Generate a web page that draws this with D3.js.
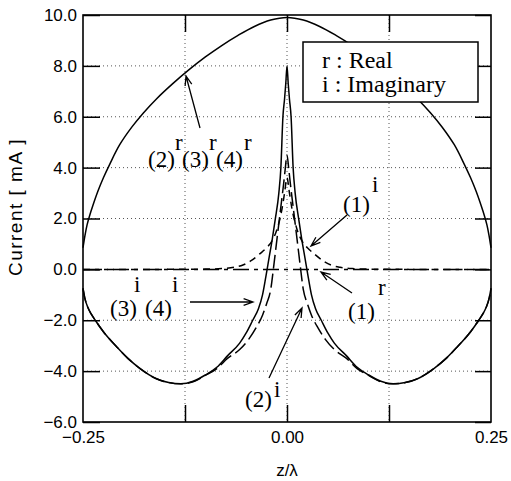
<!DOCTYPE html>
<html>
<head>
<meta charset="utf-8">
<script src="https://cdn.jsdelivr.net/npm/d3@7"></script>
<style>
  html, body { margin: 0; padding: 0; background: #fff; }
  svg { display: block; }
</style>
</head>
<body>
<svg id="chart" width="511" height="481"></svg>
<script>
// Current distribution along the antenna, z/λ from -0.25 to 0.25 (mA)

// (2)^r (3)^r (4)^r — real part, identical for the three cases
const zReal = [-0.25, -0.2475, -0.245, -0.242, -0.238, -0.232, -0.225, -0.217, -0.205, -0.19, -0.176, -0.16, -0.14, -0.12, -0.1, -0.08, -0.06, -0.04, -0.02, 0,
  0.02, 0.04, 0.06, 0.08, 0.1, 0.12, 0.14, 0.16, 0.176, 0.19, 0.205, 0.217, 0.225, 0.232, 0.238, 0.242, 0.245, 0.2475, 0.25];
const realR234 = [0.85, 1.35, 1.75, 2.1, 2.5, 3.05, 3.6, 4.15, 4.9, 5.6, 6.15, 6.7, 7.3, 7.85, 8.35, 8.8, 9.2, 9.55, 9.8, 9.9,
  9.8, 9.55, 9.2, 8.8, 8.35, 7.85, 7.3, 6.7, 6.15, 5.6, 4.9, 4.15, 3.6, 3.05, 2.5, 2.1, 1.75, 1.35, 0.85];

// (3)^i (4)^i — imaginary part, sharp peak at the feed
const zImag34 = [-0.25, -0.248, -0.244, -0.24, -0.235, -0.225, -0.208, -0.195, -0.18, -0.16, -0.145, -0.13, -0.115, -0.1, -0.086, -0.073, -0.058, -0.05, -0.042, -0.035, -0.03, -0.026, -0.022, -0.018, -0.0145, -0.01, -0.0075, -0.005, -0.003, -0.0015, 0,
  0.0015, 0.003, 0.005, 0.0075, 0.01, 0.0145, 0.018, 0.022, 0.026, 0.03, 0.035, 0.042, 0.05, 0.058, 0.073, 0.086, 0.1, 0.115, 0.13, 0.145, 0.16, 0.18, 0.195, 0.208, 0.225, 0.235, 0.24, 0.244, 0.248, 0.25];
const imag34 = [-0.75, -1.1, -1.5, -1.75, -2.0, -2.45, -3.07, -3.5, -3.9, -4.3, -4.45, -4.5, -4.4, -4.15, -3.85, -3.4, -2.9, -2.5, -2.0, -1.55, -1.0, -0.3, 0.45, 1.2, 1.95, 3.0, 4.0, 6.0, 6.7, 7.3, 8.0,
  7.3, 6.7, 6.0, 4.0, 3.0, 1.95, 1.2, 0.45, -0.3, -1.0, -1.55, -2.0, -2.5, -2.9, -3.4, -3.85, -4.15, -4.4, -4.5, -4.45, -4.3, -3.9, -3.5, -3.07, -2.45, -2.0, -1.75, -1.5, -1.1, -0.75];

// (2)^i — imaginary part
const zImag2 = [-0.25, -0.248, -0.244, -0.24, -0.235, -0.225, -0.208, -0.195, -0.18, -0.16, -0.145, -0.13, -0.115, -0.1, -0.086, -0.073, -0.058, -0.047, -0.038, -0.03, -0.025, -0.02, -0.016, -0.013, -0.01, -0.007, -0.004, -0.002, 0,
  0.002, 0.004, 0.007, 0.01, 0.013, 0.016, 0.02, 0.025, 0.03, 0.038, 0.047, 0.058, 0.073, 0.086, 0.1, 0.115, 0.13, 0.145, 0.16, 0.18, 0.195, 0.208, 0.225, 0.235, 0.24, 0.244, 0.248, 0.25];
const imag2 = [-0.75, -1.1, -1.5, -1.75, -2.0, -2.45, -3.07, -3.5, -3.9, -4.3, -4.45, -4.5, -4.42, -4.17, -3.9, -3.5, -3.15, -2.75, -2.3, -1.8, -1.35, -0.8, 0.2, 1.0, 1.8, 2.6, 3.4, 4.0, 4.5,
  4.0, 3.4, 2.6, 1.8, 1.0, 0.2, -0.8, -1.35, -1.8, -2.3, -2.75, -3.15, -3.5, -3.9, -4.17, -4.42, -4.5, -4.45, -4.3, -3.9, -3.5, -3.07, -2.45, -2.0, -1.75, -1.5, -1.1, -0.75];

// (1)^i — imaginary part, decays to zero away from the feed
const zImag1 = [-0.25, -0.15, -0.1, -0.08, -0.065, -0.054, -0.045, -0.033, -0.025, -0.018, -0.012, -0.006, -0.003, 0,
  0.003, 0.006, 0.012, 0.018, 0.025, 0.033, 0.045, 0.054, 0.065, 0.08, 0.1, 0.15, 0.25];
const imag1 = [0, 0, 0.01, 0.03, 0.08, 0.17, 0.32, 0.62, 0.85, 1.14, 1.6, 2.4, 3.0, 3.6,
  3.0, 2.4, 1.6, 1.14, 0.85, 0.62, 0.32, 0.17, 0.08, 0.03, 0.01, 0, 0];

// (1)^r — real part, stays at zero
const zReal1 = [-0.25, 0, 0.25];
const real1 = [0, 0, 0];

const yTicks = [-6, -4, -2, 0, 2, 4, 6, 8, 10];
const yGrid = [-4, -2, 2, 4, 6, 8];
const xLabelTicks = [-0.25, 0, 0.25];
const xInnerTicks = [-0.125, 0, 0.125];
const legendLines = ["r : Real", "i : Imaginary"];

const svg = d3.select("#chart");
const x = d3.scaleLinear().domain([-0.25, 0.25]).range([83, 491]);
const y = d3.scaleLinear().domain([-6, 10]).range([422, 15]);
const [x0, x1] = x.range();
const [yb, yt] = y.range();

const sans = "'Liberation Sans', Arial, Helvetica, sans-serif";
const serif = "'Liberation Serif', 'Times New Roman', Times, serif";

// dotted grid
const grid = svg.append("g").attr("stroke", "#555").attr("stroke-width", 1).attr("stroke-dasharray", "1,3");
grid.selectAll("line.h").data(yGrid).join("line")
  .attr("x1", x0).attr("x2", x1).attr("y1", d => y(d)).attr("y2", d => y(d));
grid.selectAll("line.v").data(xInnerTicks).join("line")
  .attr("y1", yt).attr("y2", yb).attr("x1", d => x(d)).attr("x2", d => x(d));

// curves
const zip = (zs, vs) => zs.map((z, i) => [z, vs[i]]);
const peakLine = d3.line().x(d => x(d[0])).y(d => y(d[1])).curve(d3.curveMonotoneX);
const smoothLine = d3.line().x(d => x(d[0])).y(d => y(d[1])).curve(d3.curveCatmullRom.alpha(0.5));
const series = [
  { pts: zip(zReal1, real1), dash: "16,5,4,5", gen: peakLine },
  { pts: zip(zImag1, imag1), dash: "7,5", gen: peakLine },
  { pts: zip(zImag2, imag2), dash: "14,5", gen: peakLine },
  { pts: zip(zImag34, imag34), dash: null, gen: peakLine },
  { pts: zip(zReal, realR234), dash: null, gen: smoothLine }
];
const plot = svg.append("g");
plot.selectAll("path").data(series).join("path")
  .attr("d", d => d.gen(d.pts))
  .attr("fill", "none")
  .attr("stroke", "#000")
  .attr("stroke-width", 1.5)
  .attr("stroke-dasharray", d => d.dash);

// axes with inward ticks
const fmtY = d3.format(".1f");
const fmtX = d3.format(".2f");
const axL = svg.append("g").attr("transform", `translate(${x0},0)`)
  .call(d3.axisLeft(y).tickValues(yTicks).tickFormat(fmtY).tickSizeInner(-17).tickSizeOuter(0).tickPadding(6));
const axR = svg.append("g").attr("transform", `translate(${x1},0)`)
  .call(d3.axisRight(y).tickValues(yTicks).tickFormat("").tickSizeInner(-16).tickSizeOuter(0));
const axT = svg.append("g").attr("transform", `translate(0,${yt})`)
  .call(d3.axisTop(x).tickValues(xInnerTicks).tickFormat("").tickSizeInner(-17).tickSizeOuter(0));
const axB = svg.append("g").attr("transform", `translate(0,${yb})`)
  .call(d3.axisBottom(x).tickValues(xInnerTicks).tickFormat("").tickSizeInner(-17).tickSizeOuter(0));
const axBL = svg.append("g").attr("transform", `translate(0,${yb})`)
  .call(d3.axisBottom(x).tickValues(xLabelTicks).tickFormat(fmtX).tickSize(0).tickPadding(9));
[axL, axR, axT, axB, axBL].forEach(g => {
  g.select(".domain").remove();
  g.selectAll(".tick line").attr("stroke", "#000").attr("stroke-width", 1.5);
  g.selectAll("text").attr("font-family", sans).attr("font-size", 17).attr("fill", "#000");
});

// frame
svg.append("rect").attr("x", x0).attr("y", yt).attr("width", x1 - x0).attr("height", yb - yt)
  .attr("fill", "none").attr("stroke", "#000").attr("stroke-width", 1.6);

// axis titles
svg.append("text").attr("transform", "translate(22,207) rotate(-90)")
  .attr("text-anchor", "middle").attr("font-family", sans).attr("font-size", 19)
  .attr("letter-spacing", 1.5)
  .text("Current [ mA ]");
svg.append("text").attr("x", x(0)).attr("y", 476)
  .attr("text-anchor", "middle").attr("font-family", sans).attr("font-size", 17)
  .text("z/λ");

// legend
const lg = svg.append("g");
lg.append("rect").attr("x", 303).attr("y", 42).attr("width", 175).attr("height", 60)
  .attr("fill", "#fff").attr("stroke", "#000").attr("stroke-width", 1.5);
lg.selectAll("text").data(legendLines).join("text")
  .attr("x", 322).attr("y", (d, i) => 68 + i * 24)
  .attr("font-family", serif).attr("font-size", 24).text(d => d);

// annotations: label pieces (text, x, baseline) and arrows
const labels = [
  ["(2)", 148, 167], ["r", 175, 150], ["(3)", 182, 167], ["r", 209, 150], ["(4)", 216, 167], ["r", 244, 150],
  ["(1)", 343, 212], ["i", 372, 192],
  ["(1)", 348, 319], ["r", 378, 295],
  ["(3)", 110, 316], ["i", 134, 292], ["(4)", 145, 316], ["i", 172, 292],
  ["(2)", 245, 407], ["i", 274, 397]
];
svg.append("g").selectAll("text").data(labels).join("text")
  .attr("x", d => d[1]).attr("y", d => d[2])
  .attr("font-family", serif).attr("font-size", 23).text(d => d[0]);

const arrows = [
  [200, 128, 186, 76],
  [347, 215, 311, 246],
  [352, 293, 321, 272],
  [190, 302, 253, 302],
  [269, 378, 302, 308]
];
const ag = svg.append("g").attr("stroke", "#000").attr("stroke-width", 1.3).attr("fill", "none");
arrows.forEach(([ax, ay, bx, by]) => {
  const ang = Math.atan2(by - ay, bx - ax);
  const L = 10, w = 0.35;
  const p1 = [bx - L * Math.cos(ang - w), by - L * Math.sin(ang - w)];
  const p2 = [bx - L * Math.cos(ang + w), by - L * Math.sin(ang + w)];
  ag.append("path").attr("d", `M${ax},${ay}L${bx},${by}M${p1[0]},${p1[1]}L${bx},${by}L${p2[0]},${p2[1]}`);
});
</script>
</body>
</html>
